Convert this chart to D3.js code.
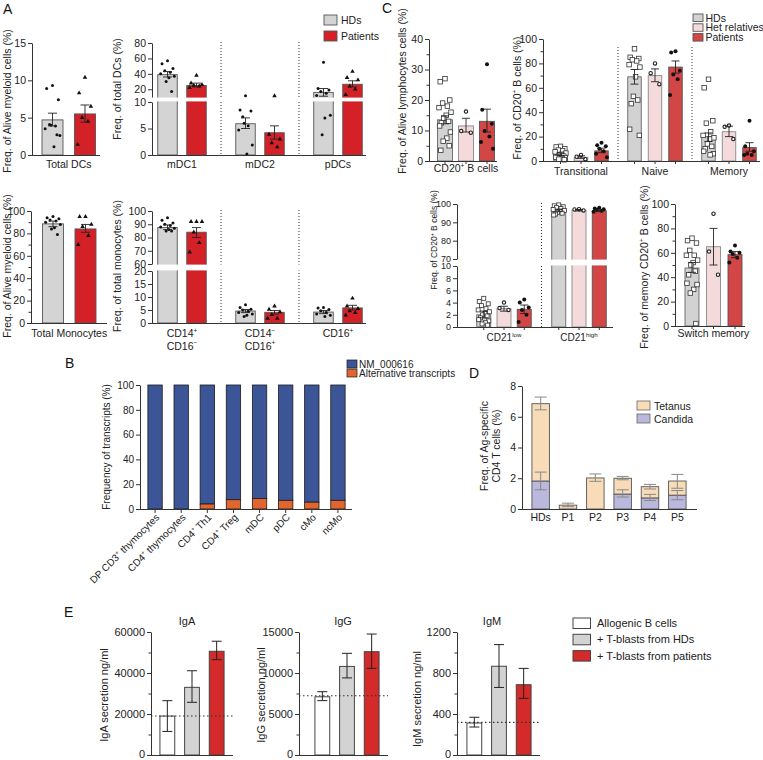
<!DOCTYPE html>
<html><head><meta charset="utf-8">
<script src="https://cdn.jsdelivr.net/npm/d3@7"></script>
<style>body{margin:0;background:#fff}svg{font-family:"Liberation Sans",Arial,Helvetica,sans-serif}</style>
</head><body><svg id="c" width="763" height="760"></svg>
<script>
// ---------------- DATA ----------------
// Panel A  rows: [group, series, mean, errLow, errHigh]
const A1_groups = ["Total DCs"];
const A1_bars = [["Total DCs","HDs",4.7,3.9,5.6],["Total DCs","Patients",5.5,4.4,6.7]];
const A1_points = [["Total DCs","HDs",[9.3,8.9,7.4,4.1,3.9,3.5,2.6,1.1,4.0,2.7]],["Total DCs","Patients",[10.4,8.3,6.5,5.0,4.5,1.4]]];
const A1_ticks = [[0,5,10,15]];

const A2_groups = ["mDC1","mDC2","pDCs"];
const A2_bars = [["mDC1","HDs",39,36,43],["mDC1","Patients",25,23,28],["mDC2","HDs",5.9,5.0,7.0],["mDC2","Patients",4.2,3.0,5.5],["pDCs","HDs",16,11,21],["pDCs","Patients",26.5,23,31]];
const A2_points = [["mDC1","HDs",[57,53,47,44,42,40,37,35,30,17]],["mDC1","Patients",[38,28,26,25,24,22]],
  ["mDC2","HDs",[11.5,8.5,8.3,7.2,5.5,4.7,1.9,0.2,6.0]],["mDC2","Patients",[11.5,3.9,3.0,2.3,1.5]],
  ["pDCs","HDs",[55,21,19,17,15,12,7.5,7.0,3.8]],["pDCs","Patients",[43,35,32,24,20,13]]];
const A2_ticks = [[0,5,10],[20,40,60,80]];

const A3_groups = ["Total Monocytes"];
const A3_bars = [["Total Monocytes","HDs",88.5,86,91],["Total Monocytes","Patients",84,81,88]];
const A3_points = [["Total Monocytes","HDs",[95,94,93,92,91,90,88,85,84,79]],["Total Monocytes","Patients",[95,95,88,86,78,70]]];
const A3_ticks = [[0,20,40,60,80,100]];

const A4_groups = ["CD14{+}|CD16{−}","CD14{−}|CD16{+}","CD16{+}"];
const A4_bars = [["CD14{+}|CD16{−}","HDs",87.5,86,89.5],["CD14{+}|CD16{−}","Patients",84,80,87.5],
  ["CD14{−}|CD16{+}","HDs",4.6,4.0,5.2],["CD14{−}|CD16{+}","Patients",4.1,3.4,4.8],
  ["CD16{+}","HDs",4.2,3.6,4.8],["CD16{+}","Patients",5.8,5.0,6.8]];
const A4_points = [["CD14{+}|CD16{−}","HDs",[95,93,91,90,89,88,87,86,85,85]],["CD14{+}|CD16{−}","Patients",[92,92,92,84,76,69]],
  ["CD14{−}|CD16{+}","HDs",[7.0,6.0,5.3,5.0,4.5,4.0,3.5,3.0,2.5]],["CD14{−}|CD16{+}","Patients",[6.5,5.2,4.3,3.2,1.8,1.8]],
  ["CD16{+}","HDs",[6.0,5.8,5.2,4.7,4.0,3.5,3.0,2.5]],["CD16{+}","Patients",[9.5,6.5,5.5,4.6,4.0,3.0]]];
const A4_ticks = [[0,5,10,15,20],[60,70,80,90,100]];

// Panel C
const C1_groups = ["CD20{+} B cells"];
const C1_bars = [["CD20{+} B cells","HDs",13.5,12.2,14.8],["CD20{+} B cells","Het relatives",11.5,9.5,14],["CD20{+} B cells","Patients",13,9.5,17]];
const C1_points = [["CD20{+} B cells","HDs",[27,26,20,19,18,17.5,16,15,14,13,12.5,11.5,9.5,7.5,6.5,5,3.5]],
  ["CD20{+} B cells","Het relatives",[16.2,9.8,9.3]],["CD20{+} B cells","Patients",[31.7,16.8,12.2,9.8,8.0,6.2,4.0]]];
const C1_ticks = [[0,10,20,30,40]];

const C2_groups = ["Transitional","Naive","Memory"];
const C2_bars = [["Transitional","HDs",5.5,4.5,6.5],["Transitional","Het relatives",3.0,2.2,4.2],["Transitional","Patients",8.3,6.8,10.5],
  ["Naive","HDs",69,63,75],["Naive","Het relatives",70,65,75.5],["Naive","Patients",77,72,82],
  ["Memory","HDs",20,16,23],["Memory","Het relatives",24,20,28.5],["Memory","Patients",11,8,15]];
const C2_points = [["Transitional","HDs",[12,11.5,10,9,8.5,7.5,6.5,5.5,5,4,3.5,3,2.5,2,1.5,1]],["Transitional","Het relatives",[5,3.5,1.5]],["Transitional","Patients",[15,13,12,10,8,6,3]],
  ["Naive","HDs",[92,85,84,83,82,79,77,69,53,50,47,26,21]],["Naive","Het relatives",[80,72,63]],["Naive","Patients",[90,89,74,71,67,54]],
  ["Memory","HDs",[67,60,33,31,24,21,19,18,14,12,10,8,6,5]],["Memory","Het relatives",[29,28,18]],["Memory","Patients",[33,12,8,6,5,5]]];
const C2_ticks = [[0,20,40,60,80,100]];

const C3_groups = ["CD21{low}","CD21{high}"];
const C3_bars = [["CD21{low}","HDs",2.0,1.5,2.6],["CD21{low}","Het relatives",3.0,2.6,3.4],["CD21{low}","Patients",2.9,2.2,3.6],
  ["CD21{high}","HDs",96.5,95.8,97.2],["CD21{high}","Het relatives",96.6,96.2,97],["CD21{high}","Patients",96.3,95.8,96.8]];
const C3_points = [["CD21{low}","HDs",[4.7,4.2,3.8,3.5,3.0,2.8,2.5,2.2,2.0,1.8,1.5,1.2,1.0,0.7,0.5,0.3]],["CD21{low}","Het relatives",[4.0,3.1,2.8]],["CD21{low}","Patients",[4.5,4.0,3.2,2.8,2.0,0.8]],
  ["CD21{high}","HDs",[99.5,99,98.5,98,97.5,97,96.5,96,95.5,95,94.5,94]],["CD21{high}","Het relatives",[97.2,97,96.5]],["CD21{high}","Patients",[98,97.5,97.2,96.8,96.3,95.8]]];
const C3_ticks = [[0,2,4,6,8,10],[70,80,90,100]];

const C4_groups = ["Switch memory"];
const C4_bars = [["Switch memory","HDs",47.5,44,52],["Switch memory","Het relatives",65,50,80],["Switch memory","Patients",58.5,56,61]];
const C4_points = [["Switch memory","HDs",[72,70,68,62,58,58,54,52,50,45,42,35,34,30,27,2]],["Switch memory","Het relatives",[92,61,42]],["Switch memory","Patients",[66,61,60,59,56,52]]];
const C4_ticks = [[0,20,40,60,80,100]];

// Panel B
const B_cats = ["DP CD3{+} thymocytes","CD4{+} thymocytes","CD4{+} Th1","CD4{+} Treg","mDC","pDC","cMo","ncMo"];
const B_alt = [0,0,4,7.5,8.5,7,5.5,7];
const B_nm = [100,100,96,92.5,91.5,93,94.5,93];
const B_ticks = [0,20,40,60,80,100];

// Panel D
const D_cats = ["HDs","P1","P2","P3","P4","P5"];
const D_candida = [1.82,0,0,0.97,0.72,0.9];
const D_candidaErr = [[1.25,2.4],null,null,[0.78,1.25],[0.55,0.95],[0.6,1.2]];
const D_tetanus = [5.03,0.25,2.02,1.03,0.73,0.92];
const D_totalErr = [[6.45,7.28],[0.15,0.38],[1.8,2.28],[1.9,2.12],[1.3,1.6],[1.35,2.25]];
const D_ticks = [0,2,4,6,8];

// Panel E
const E_groups = ["Allogenic B cells","+ T-blasts from HDs","+ T-blasts from patients"];
const IgA_mean = [19000,33000,50600]; const IgA_err = [[11500,26500],[25700,41100],[46500,55500]]; const IgA_ref = 19000;
const IgG_mean = [7100,10800,12600]; const IgG_err = [[6630,7720],[9400,12400],[10570,14750]]; const IgG_ref = 7230;
const IgM_mean = [312,866,686]; const IgM_err = [[273,368],[659,1077],[553,845]]; const IgM_ref = 318;

// ---------------- DRAWING ----------------
const svg = d3.select("#c");
const FONT = '"Liberation Sans", Arial, Helvetica, sans-serif';
const INK = "#222";

function rich(sel, str, fs) {
  const parts = str.split(/(\{[^}]*\})/).filter(s => s.length);
  let up = false;
  parts.forEach(p => {
    if (p[0] === '{') {
      sel.append('tspan').attr('font-size', fs * 0.62).attr('dy', -fs * 0.4).text(p.slice(1, -1));
      up = true;
    } else {
      const t = sel.append('tspan').text(p);
      if (up) { t.attr('dy', fs * 0.4); up = false; }
    }
  });
}
function txt(g, x, y, str, o = {}) {
  const fs = o.fs || 10;
  const t = g.append('text').attr('font-size', fs).attr('text-anchor', o.anchor || 'middle').attr('fill', o.fill || INK);
  if (o.rot) t.attr('transform', `translate(${x},${y}) rotate(${o.rot})`); else t.attr('x', x).attr('y', y);
  rich(t, str, fs);
  return t;
}
function makeY(segs) {
  const sc = segs.map(s => d3.scaleLinear().domain(s.d).range(s.r));
  return v => { for (let i = 0; i < segs.length; i++) { if (v <= segs[i].d[1] || i === segs.length - 1) return sc[i](v); } };
}
function yAxis(g, ax, segs, ticks, minor, fs) {
  segs.forEach((s, i) => {
    const sc = d3.scaleLinear().domain(s.d).range(s.r);
    const a = g.append('g').attr('transform', `translate(${ax},0)`)
      .call(d3.axisLeft(sc).tickValues(ticks[i]).tickSize(4).tickSizeOuter(0).tickFormat(d => d));
    a.attr('font-family', FONT).attr('font-size', fs);
    a.select('.domain').attr('stroke', '#333');
    a.selectAll('.tick line').attr('stroke', '#333');
    a.selectAll('.tick text').attr('fill', INK).attr('x', -6);
    if (minor && minor[i] && minor[i].length) {
      const m = g.append('g').attr('transform', `translate(${ax},0)`)
        .call(d3.axisLeft(sc).tickValues(minor[i]).tickSize(2.5).tickFormat(''));
      m.select('.domain').remove();
      m.selectAll('.tick line').attr('stroke', '#333');
    }
  });
}
const JIT = [0, -0.8, 0.8, -0.4, 0.4, -1, 1, 0.2, -0.2, 0.6, -0.6, -0.9, 0.9, 0.3, -0.3, 0.7, -0.7];
function shape(g, kind, x, y, sz) {
  if (kind === 'dot') g.append('circle').attr('cx', x).attr('cy', y).attr('r', 1.5).attr('fill', '#111');
  else if (kind === 'tri') g.append('path').attr('d', d3.symbol(d3.symbolTriangle, 9)()).attr('transform', `translate(${x},${y})`).attr('fill', '#111');
  else if (kind === 'sq') g.append('rect').attr('x', x - sz / 2).attr('y', y - sz / 2).attr('width', sz).attr('height', sz).attr('fill', '#fff').attr('stroke', '#333').attr('stroke-width', 0.8);
  else if (kind === 'ring') g.append('circle').attr('cx', x).attr('cy', y).attr('r', 1.7).attr('fill', '#fff').attr('stroke', '#222').attr('stroke-width', 1.1);
  else if (kind === 'big') g.append('circle').attr('cx', x).attr('cy', y).attr('r', 2).attr('fill', '#111');
}

const styleA = { "HDs": { fill: "#d4d4d4", stroke: "#555", shape: 'dot' }, "Patients": { fill: "#d42127", stroke: "#555", shape: 'tri' } };
const styleC = { "HDs": { fill: "#d2d2d2", stroke: "#666", shape: 'sq' }, "Het relatives": { fill: "#f4dada", stroke: "#888", shape: 'ring' }, "Patients": { fill: "#d24646", stroke: "#555", shape: 'big' } };

function dotBar(c) {
  const g = svg.append('g');
  const y = makeY(c.segs);
  const gx = d3.scaleBand().domain(c.groups).range(c.groupRange);
  const sx = gn => d3.scalePoint().domain(c.series).range([gx(gn) + gx.bandwidth() / 2 - c.spread, gx(gn) + gx.bandwidth() / 2 + c.spread]);
  const base = c.segs[0].r[0];
  if (c.sep) c.groups.slice(1).forEach(gn => g.append('line').attr('x1', gx(gn)).attr('x2', gx(gn)).attr('y1', c.sep[0]).attr('y2', c.sep[1])
    .attr('stroke', '#333').attr('stroke-width', 1).attr('stroke-dasharray', '1,2'));
  c.bars.forEach(([gn, s, m]) => {
    const cx = sx(gn)(s), st = c.style[s];
    g.append('rect').attr('x', cx - c.barW / 2).attr('width', c.barW).attr('y', y(m)).attr('height', base - y(m))
      .attr('fill', st.fill).attr('stroke', st.stroke).attr('stroke-width', 0.9);
  });
  if (c.segs.length > 1) {
    const yb = c.segs[0].r[1], yt = c.segs[1].r[0];
    g.append('rect').attr('x', c.ax - 8).attr('y', yt + 0.6).attr('width', c.axEnd - c.ax + 12).attr('height', yb - yt - 1.2).attr('fill', '#fff');
  }
  c.points.forEach(([gn, s, vals]) => {
    const cx = sx(gn)(s);
    vals.forEach((v, i) => shape(g, c.style[s].shape, cx + (vals.length > 1 ? JIT[i % JIT.length] : 0) * c.barW * c.jit, y(v), c.sq || 4.5));
  });
  c.bars.forEach(([gn, s, m, lo, hi]) => {
    const cx = sx(gn)(s), w = c.cap;
    g.append('line').attr('x1', cx).attr('x2', cx).attr('y1', y(lo)).attr('y2', y(hi)).attr('stroke', '#222').attr('stroke-width', 0.9);
    [lo, hi].forEach(v => g.append('line').attr('x1', cx - w / 2).attr('x2', cx + w / 2).attr('y1', y(v)).attr('y2', y(v)).attr('stroke', '#222').attr('stroke-width', 0.9));
  });
  yAxis(g, c.ax, c.segs, c.ticks, c.minor, c.tfs);
  g.append('line').attr('x1', c.ax).attr('x2', c.axEnd).attr('y1', base + 0.5).attr('y2', base + 0.5).attr('stroke', '#333');
  if (c.xTicks) c.bars.forEach(([gn, s]) => { const cx = sx(gn)(s); g.append('line').attr('x1', cx).attr('x2', cx).attr('y1', base).attr('y2', base + 3).attr('stroke', '#333'); });
  c.groups.forEach(gn => {
    const cx = gx(gn) + gx.bandwidth() / 2;
    gn.split('|').forEach((ln, j) => txt(g, cx, c.xlY + j * 12.5, ln, { fs: c.lfs }));
  });
  txt(g, c.ylab[0], c.ylab[1], c.ylabel, { fs: c.yfs || c.lfs, rot: -90 });
}

// Panel letters
[["A", 3, 14], ["C", 382, 13], ["B", 65, 368], ["D", 469, 378], ["E", 64, 617]].forEach(([l, x, y]) => txt(svg, x, y, l, { fs: 14, anchor: 'start', fill: '#111' }));

const serA = ["HDs", "Patients"], serC = ["HDs", "Het relatives", "Patients"];
dotBar({ groups: A1_groups, bars: A1_bars, points: A1_points, series: serA, style: styleA, ax: 32, axEnd: 100, groupRange: [37.5, 100],
  spread: 16.25, barW: 21, cap: 9, jit: 0.35, segs: [{ d: [0, 15], r: [155, 43] }], ticks: A1_ticks, tfs: 10.5, lfs: 10.5,
  xlY: 168, ylabel: "Freq. of Alive myeloid cells (%)", ylab: [11, 101] });
dotBar({ groups: A2_groups, bars: A2_bars, points: A2_points, series: serA, style: styleA, ax: 152, axEnd: 366, groupRange: [143, 377],
  spread: 14.5, barW: 19.5, cap: 9, jit: 0.35, segs: [{ d: [0, 10], r: [155, 102] }, { d: [10, 80], r: [97, 43] }], ticks: A2_ticks, tfs: 10.5, lfs: 10.5,
  sep: [42, 155], xlY: 168, ylabel: "Freq. of total DCs (%)", ylab: [121, 89] });
dotBar({ groups: A3_groups, bars: A3_bars, points: A3_points, series: serA, style: styleA, ax: 31, axEnd: 107, groupRange: [38.5, 100],
  spread: 16.25, barW: 21, cap: 9, jit: 0.35, segs: [{ d: [0, 100], r: [323, 211] }], ticks: A3_ticks, minor: [[10, 30, 50, 70, 90]], tfs: 10.5, lfs: 10.5,
  xlY: 337, ylabel: "Freq. of Alive myeloid cells (%)", ylab: [11, 266] });
dotBar({ groups: A4_groups, bars: A4_bars, points: A4_points, series: serA, style: styleA, ax: 152, axEnd: 366, groupRange: [143, 377],
  spread: 14.5, barW: 19.5, cap: 9, jit: 0.35, segs: [{ d: [0, 20], r: [323, 271] }, { d: [60, 100], r: [264, 211] }], ticks: A4_ticks, tfs: 10.5, lfs: 10.5,
  sep: [210, 323], xlY: 337, ylabel: "Freq. of total monocytes (%)", ylab: [121, 266] });
[["HDs", styleA.HDs], ["Patients", styleA.Patients]].forEach(([l, st], i) => {
  svg.append('rect').attr('x', 324).attr('y', 15 + i * 16).attr('width', 13).attr('height', 10).attr('fill', st.fill).attr('stroke', st.stroke).attr('stroke-width', 0.9);
  txt(svg, 341, 24 + i * 16, l, { fs: 10.5, anchor: 'start' });
});

dotBar({ groups: C1_groups, bars: C1_bars, points: C1_points, series: serC, style: styleC, ax: 429, axEnd: 497, groupRange: [435, 497],
  spread: 21, barW: 15, cap: 8, jit: 0.4, sq: 4.5, segs: [{ d: [0, 40], r: [161, 39] }], ticks: C1_ticks, minor: [[5, 15, 25, 35]], tfs: 10.5, lfs: 10.5,
  xTicks: true, xlY: 172, ylabel: "Freq. of Alive lymphocytes cells (%)", ylab: [406, 91] });
dotBar({ groups: C2_groups, bars: C2_bars, points: C2_points, series: serC, style: styleC, ax: 543, axEnd: 760, groupRange: [544, 766],
  spread: 20.5, barW: 13.5, cap: 8, jit: 0.4, sq: 4.5, segs: [{ d: [0, 100], r: [161, 39] }], ticks: C2_ticks, minor: [[10, 30, 50, 70, 90]], tfs: 10.5, lfs: 10.5,
  sep: [47, 161], xTicks: true, xlY: 175, ylabel: "Freq. of CD20{+} B cells (%)", ylab: [521, 98] });
dotBar({ groups: C3_groups, bars: C3_bars, points: C3_points, series: serC, style: styleC, ax: 457, axEnd: 613, groupRange: [466.5, 616.5],
  spread: 20.25, barW: 14, cap: 8, jit: 0.4, sq: 4, segs: [{ d: [0, 10], r: [327, 266] }, { d: [70, 100], r: [259, 204] }], ticks: C3_ticks, tfs: 9, lfs: 10,
  sep: [203, 327], xTicks: true, xlY: 341, ylabel: "Freq. of CD20{+} B cells (%)", yfs: 8.5, ylab: [437, 240] });
dotBar({ groups: C4_groups, bars: C4_bars, points: C4_points, series: serC, style: styleC, ax: 675, axEnd: 745, groupRange: [680, 747],
  spread: 21.5, barW: 14, cap: 8, jit: 0.4, sq: 4.5, segs: [{ d: [0, 100], r: [326, 204] }], ticks: C4_ticks, minor: [[10, 30, 50, 70, 90]], tfs: 10.5, lfs: 10.5,
  xTicks: true, xlY: 337, ylabel: "Freq. of memory CD20{+} B cells (%)", ylab: [648, 267] });
serC.forEach((s, i) => {
  svg.append('rect').attr('x', 693).attr('y', 14 + i * 9.8).attr('width', 10).attr('height', 7.5).attr('fill', styleC[s].fill).attr('stroke', '#555').attr('stroke-width', 0.9);
  txt(svg, 705.5, 21.5 + i * 9.8, s, { fs: 10.5, anchor: 'start' });
});

// ---- Panel B ----
(function () {
  const g = svg.append('g');
  const y = d3.scaleLinear().domain([0, 100]).range([509, 385]);
  const x = d3.scaleBand().domain(B_cats).range([142, 351]).paddingInner(0.45).paddingOuter(0.225);
  B_cats.forEach((c, i) => {
    g.append('rect').attr('x', x(c)).attr('width', x.bandwidth()).attr('y', y(B_alt[i] + B_nm[i])).attr('height', y(B_alt[i]) - y(B_alt[i] + B_nm[i]))
      .attr('fill', '#3c5596').attr('stroke', '#1a1a1a').attr('stroke-width', 0.8);
    if (B_alt[i] > 0) g.append('rect').attr('x', x(c)).attr('width', x.bandwidth()).attr('y', y(B_alt[i])).attr('height', y(0) - y(B_alt[i]))
      .attr('fill', '#e0652f').attr('stroke', '#1a1a1a').attr('stroke-width', 0.8);
  });
  yAxis(g, 140, [{ d: [0, 100], r: [509, 385] }], [B_ticks], null, 10);
  g.append('line').attr('x1', 140).attr('x2', 352).attr('y1', 509.5).attr('y2', 509.5).attr('stroke', '#333');
  B_cats.forEach(c => {
    const cx = x(c) + x.bandwidth() / 2;
    g.append('line').attr('x1', cx).attr('x2', cx).attr('y1', 509).attr('y2', 513).attr('stroke', '#333');
    txt(g, cx + 5, 518, c, { fs: 10, anchor: 'end', rot: -45 });
  });
  txt(g, 110, 447, "Frequency of transcripts (%)", { fs: 10, rot: -90 });
  [["NM_000616", '#3c5596'], ["Alternative transcripts", '#e0652f']].forEach(([l, f], i) => {
    g.append('rect').attr('x', 347).attr('y', 360 + i * 9).attr('width', 10).attr('height', 8).attr('fill', f).attr('stroke', '#1a1a1a').attr('stroke-width', 0.7);
    txt(g, 359, 367.5 + i * 9, l, { fs: 10, anchor: 'start' });
  });
})();

// ---- Panel D ----
(function () {
  const g = svg.append('g');
  const y = d3.scaleLinear().domain([0, 8]).range([509, 386]);
  const x = d3.scaleBand().domain(D_cats).range([527, 691]).paddingInner(0.36).paddingOuter(0.18);
  const stack = d3.stack().keys(["candida", "tetanus"])(D_cats.map((c, i) => ({ candida: D_candida[i], tetanus: D_tetanus[i] })));
  const cols = { candida: "#bbb8de", tetanus: "#f8dcb8" };
  stack.forEach(layer => layer.forEach((d, i) => {
    if (d[1] - d[0] <= 0) return;
    g.append('rect').attr('x', x(D_cats[i])).attr('width', x.bandwidth()).attr('y', y(d[1])).attr('height', y(d[0]) - y(d[1]))
      .attr('fill', cols[layer.key]).attr('stroke', '#555').attr('stroke-width', 0.9);
  }));
  const eb = (cx, lo, hi) => {
    g.append('line').attr('x1', cx).attr('x2', cx).attr('y1', y(lo)).attr('y2', y(hi)).attr('stroke', '#888').attr('stroke-width', 1);
    [lo, hi].forEach(v => g.append('line').attr('x1', cx - 6).attr('x2', cx + 6).attr('y1', y(v)).attr('y2', y(v)).attr('stroke', '#888').attr('stroke-width', 1));
  };
  D_cats.forEach((c, i) => {
    const cx = x(c) + x.bandwidth() / 2;
    if (D_candidaErr[i]) eb(cx, D_candidaErr[i][0], D_candidaErr[i][1]);
    eb(cx, D_totalErr[i][0], D_totalErr[i][1]);
    txt(g, cx, 521, c, { fs: 10.5 });
  });
  yAxis(g, 522, [{ d: [0, 8], r: [509, 386] }], [D_ticks], null, 10.5);
  g.append('line').attr('x1', 522).attr('x2', 697).attr('y1', 509.5).attr('y2', 509.5).attr('stroke', '#333');
  txt(g, 488, 446, "Freq. of Ag-specific", { fs: 10.5, rot: -90 });
  txt(g, 500, 446, "CD4 T cells (%)", { fs: 10.5, rot: -90 });
  [["Tetanus", cols.tetanus], ["Candida", cols.candida]].forEach(([l, f], i) => {
    g.append('rect').attr('x', 637).attr('y', 401 + i * 13).attr('width', 13).attr('height', 9).attr('fill', f).attr('stroke', '#666').attr('stroke-width', 0.8);
    txt(g, 654, 409.5 + i * 13, l, { fs: 10.5, anchor: 'start' });
  });
})();

// ---- Panel E ----
const eFill = ["#ffffff", "#d3d3d3", "#d42a2a"];
const EB = 755, ET = 632;
function eChart(o) {
  const g = svg.append('g');
  const y = d3.scaleLinear().domain([0, o.max]).range([EB, ET]);
  const x = d3.scaleBand().domain(E_groups).range(o.br).paddingInner(0.4).paddingOuter(0.2);
  E_groups.forEach((c, i) => {
    g.append('rect').attr('x', x(c)).attr('width', x.bandwidth()).attr('y', y(o.mean[i])).attr('height', y(0) - y(o.mean[i]))
      .attr('fill', eFill[i]).attr('stroke', '#444').attr('stroke-width', 1);
  });
  g.append('line').attr('x1', o.ax).attr('x2', o.axEnd).attr('y1', y(o.ref)).attr('y2', y(o.ref)).attr('stroke', '#333').attr('stroke-width', 1.1).attr('stroke-dasharray', '1.5,2.5');
  E_groups.forEach((c, i) => {
    const cx = x(c) + x.bandwidth() / 2, [lo, hi] = o.err[i];
    g.append('line').attr('x1', cx).attr('x2', cx).attr('y1', y(lo)).attr('y2', y(hi)).attr('stroke', '#222');
    [lo, hi].forEach(v => g.append('line').attr('x1', cx - 5).attr('x2', cx + 5).attr('y1', y(v)).attr('y2', y(v)).attr('stroke', '#222'));
  });
  yAxis(g, o.ax, [{ d: [0, o.max], r: [EB, ET] }], [o.ticks], [o.minor], 11);
  g.selectAll('.tick text').filter(d => d === 0).attr('dy', '0.2em');
  g.append('line').attr('x1', o.ax).attr('x2', o.axEnd).attr('y1', EB + 0.5).attr('y2', EB + 0.5).attr('stroke', '#333');
  txt(g, o.tx, 625, o.title, { fs: 11 });
  txt(g, o.lx, o.ly, o.ylabel, { fs: 11, rot: -90 });
}
eChart({ mean: IgA_mean, err: IgA_err, ref: IgA_ref, max: 60000, ticks: [0, 20000, 40000, 60000], minor: [10000, 30000, 50000],
  ax: 151, axEnd: 233, br: [155, 229], title: "IgA", tx: 187, ylabel: "IgA secretion ng/ml", lx: 108, ly: 695 });
eChart({ mean: IgG_mean, err: IgG_err, ref: IgG_ref, max: 15000, ticks: [0, 5000, 10000, 15000], minor: [2500, 7500, 12500],
  ax: 299, axEnd: 388, br: [310, 384], title: "IgG", tx: 343, ylabel: "IgG secretion ng/ml", lx: 265, ly: 695 });
eChart({ mean: IgM_mean, err: IgM_err, ref: IgM_ref, max: 1200, ticks: [0, 400, 800, 1200], minor: [200, 600, 1000],
  ax: 457, axEnd: 540, br: [462, 536], title: "IgM", tx: 492, ylabel: "IgM secretion ng/ml", lx: 421, ly: 699 });
E_groups.forEach((l, i) => {
  svg.append('rect').attr('x', 573).attr('y', 618 + i * 16.3).attr('width', 17.5).attr('height', 10.5).attr('fill', eFill[i]).attr('stroke', '#444').attr('stroke-width', 1);
  txt(svg, 597, 627 + i * 16.3, l, { fs: 11, anchor: 'start' });
});
</script></body></html>
